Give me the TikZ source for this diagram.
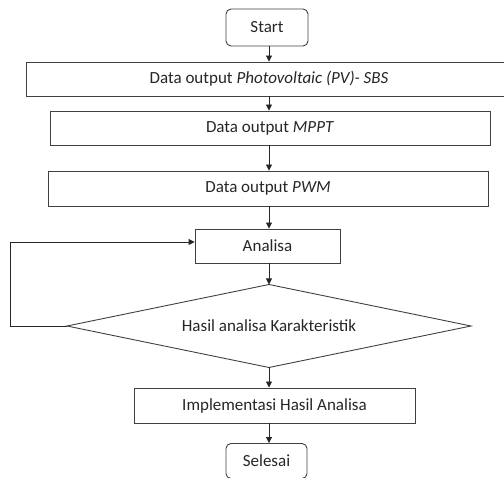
\documentclass[tikz,border=0pt]{standalone}
\usepackage{fontspec}
\setmainfont{Carlito}
\usetikzlibrary{arrows.meta}
\begin{document}
\begin{tikzpicture}[x=1pt,y=-1pt,
  every node/.style={font=\fontsize{17}{20}\selectfont, text=black!85},
  box/.style={draw=black!75, line width=0.9pt, inner sep=0pt, anchor=center},
  term/.style={box, rounded corners=5pt},
  arr/.style={draw=black!85, line width=0.9pt, -{Triangle[length=6pt,width=6pt]}}]
\useasboundingbox (0,0) rectangle (504,478);
\coordinate (axis) at (269,0);
\coordinate (loopx) at (10,0);
\node[term, minimum width=82pt, minimum height=37pt] (start) at (267,27.5) {Start};
\node[box, minimum width=486pt, minimum height=34pt] (pv) at (269,79) {Data output \textit{Photovoltaic (PV)- SBS}};
\node[box, minimum width=440pt, minimum height=34pt] (mppt) at (270,128) {Data output \textit{MPPT}};
\node[box, minimum width=440pt, minimum height=35pt] (pwm) at (268,188.5) {Data output \textit{PWM}};
\node[box, minimum width=145pt, minimum height=34pt] (ana) at (267.5,246) {Analisa};
\node[inner sep=0pt] (dia) at (269,326) {Hasil analisa Karakteristik};
\coordinate (dtop) at (269,284.5);
\coordinate (dbot) at (269,367.5);
\coordinate (dleft) at (67,326);
\coordinate (dright) at (471,326);
\draw[draw=black!75, line width=0.9pt] (dtop) -- (dright) -- (dbot) -- (dleft) -- cycle;
\node[box, minimum width=281pt, minimum height=35pt] (impl) at (274.5,405.5) {Implementasi Hasil Analisa};
\node[term, minimum width=81pt, minimum height=35pt] (end) at (266.5,461) {Selesai};
\draw[arr] (start.south -| axis) -- (pv.north -| axis);
\draw[arr] (pv.south -| axis) -- (mppt.north -| axis);
\draw[arr] (mppt.south -| axis) -- (pwm.north -| axis);
\draw[arr] (pwm.south -| axis) -- (ana.north -| axis);
\draw[arr] (ana.south -| axis) -- (dtop);
\draw[arr] (dbot) -- (impl.north -| axis);
\draw[arr] (impl.south -| axis) -- (end.north -| axis);
\coordinate (loopin) at ([yshift=4pt]ana.west);
\draw[arr] (dleft) -- (dleft -| loopx) |- (loopin);
\end{tikzpicture}
\end{document}
